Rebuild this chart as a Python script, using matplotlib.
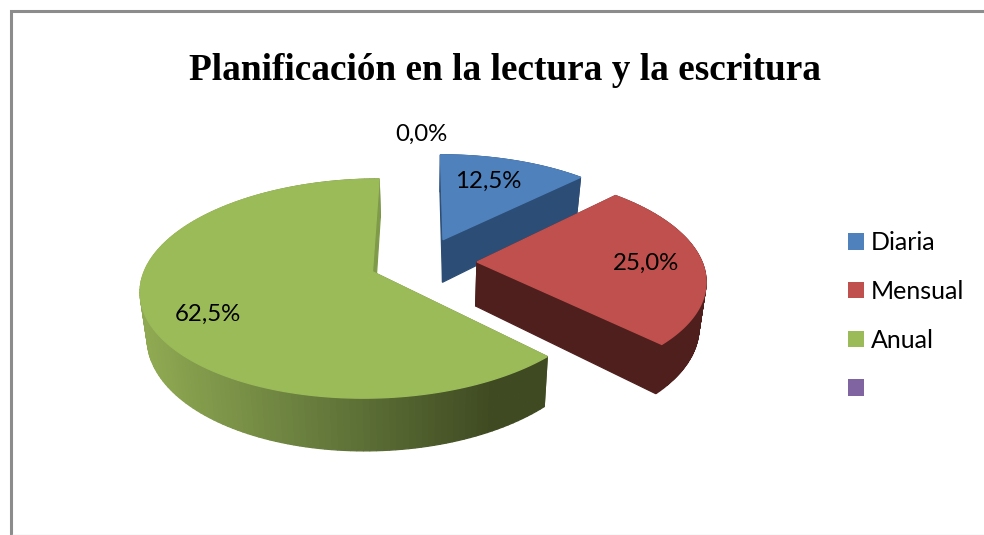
"""Exploded 3D-look pie: planificacion en la lectura y la escritura."""
import numpy as np
import matplotlib
matplotlib.use("Agg")
import matplotlib.pyplot as plt
from matplotlib.patches import Patch, Polygon
from matplotlib.colors import LinearSegmentedColormap

categories = ["Diaria", "Mensual", "Anual", " "]
values = [12.5, 25.0, 62.5, 0.0]
labels = ["12,5%", "25,0%", "62,5%", "0,0%"]
top_colors = ["#4f81bd", "#c0504d", "#9bbb59", "#8064a2"]
side_colors = ["#2c4d75", "#4f1f1d", None, None]
label_pos = [(488.5, 181), (645.5, 263), (208, 314), (421, 134)]

CX, CY = 423, 262
RX, RY = 225, 104
K = 0.152
EXPLODE = 0.24
DEPTH = 44
SHRINK = 0.975

green_side = LinearSegmentedColormap.from_list(
    "green_side", [(0, "#8fa952"), (0.55, "#62763a"), (1, "#3f4a22")])


def project(u, v, low=False):
    w = 1 + K * v
    x = CX + RX * u / w
    y = CY - RY * v / w
    if low:
        x = CX + (x - CX) * SHRINK
        y = y + DEPTH / w
    return np.column_stack([x, y])


fig = plt.figure(figsize=(9.84, 5.35), dpi=100)
ax = fig.add_axes([0, 0, 1, 1])
ax.set_xlim(0, 984)
ax.set_ylim(535, 0)
ax.axis("off")

# frame of the pasted chart
ax.plot([10.5, 10.5, 984], [535, 10.5, 10.5], color="#8c8c8c", lw=2.2, solid_joinstyle="miter")
ax.plot([12, 984], [534.5, 534.5], color="#e2e2e2", lw=1)

total = sum(values)
start = 0.0
for i, val in enumerate(values):
    if val == 0:
        continue
    end = start + val / total * 2 * np.pi
    mid = (start + end) / 2
    du, dv = EXPLODE * np.sin(mid), EXPLODE * np.cos(mid)
    ang = np.linspace(start, end, 160)
    u = np.r_[du, du + np.sin(ang), du]
    v = np.r_[dv, dv + np.cos(ang), dv]
    hi = project(u, v)
    lo = project(u, v, low=True)
    for j in range(len(u) - 1):
        quad = [hi[j], hi[j + 1], lo[j + 1], lo[j]]
        if side_colors[i] is not None:
            col = side_colors[i]
        elif j == len(u) - 2:
            col = "#7f9a48"
        else:
            col = green_side(np.clip((hi[j, 0] - 146) / 350, 0, 1))
        ax.add_patch(Polygon(quad, closed=True, fc=col, ec=col, lw=0.9, zorder=2 + i))
    ax.add_patch(Polygon(hi[:-1], closed=True, fc=top_colors[i], ec=top_colors[i], lw=1.0, zorder=2 + i))
    start = end

for text, pos in zip(labels, label_pos):
    ax.text(pos[0], pos[1], text, ha="center", va="center", fontsize=17.3,
            family="Lato", color="black", zorder=10)

ax.text(505, 66, "Planificación en la lectura y la escritura", ha="center", va="center_baseline",
        fontsize=26.85, fontweight="bold", family="Liberation Serif", color="black")

handles = [Patch(fc=c, ec="none") for c in top_colors]
ax.legend(handles, categories, loc="upper left", bbox_to_anchor=(0.862, 0.568),
          frameon=False, handlelength=0.63, handleheight=0.63,
          handletextpad=0.28, labelspacing=1.03, borderpad=0, borderaxespad=0,
          prop={"family": "Lato", "size": 18})

fig.savefig("out.png", dpi=100)
